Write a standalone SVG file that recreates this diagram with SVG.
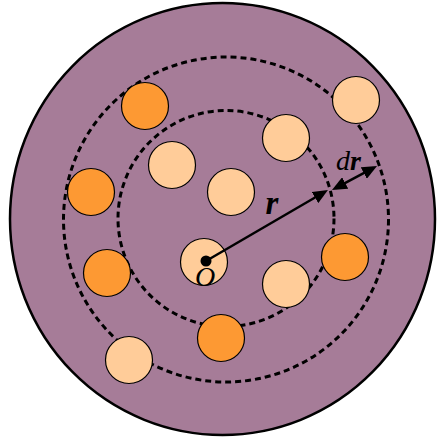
<svg xmlns="http://www.w3.org/2000/svg" width="437" height="440" viewBox="0 0 437 440">
  <style>
    .dash { fill: none; stroke: #000; stroke-width: 3; stroke-dasharray: 6 4; }
    .orange { fill: #FD9933; stroke: #000; stroke-width: 1.2; }
    .light { fill: #FFCC99; stroke: #000; stroke-width: 1.2; }
    .arrow { fill: none; stroke: #000; stroke-width: 2.5; }
    .lbl { font-family: "Liberation Serif", "DejaVu Serif", serif; font-style: italic; fill: #000; text-anchor: middle; }
    .b { font-weight: bold; }
  </style>
  <defs>
    <marker id="head" markerUnits="userSpaceOnUse" markerWidth="15" markerHeight="13" refX="11" refY="6.5" orient="auto-start-reverse">
      <path d="M0,0 L15,6.5 L0,13 Z" fill="#000"/>
    </marker>
  </defs>
  <g id="disk">
    <ellipse cx="222.5" cy="219" rx="212.5" ry="216" fill="#A67C98" stroke="#000" stroke-width="2.5"/>
  </g>
  <g id="shells">
    <circle class="dash" cx="226" cy="219.5" r="162.5"/>
    <circle class="dash" cx="226" cy="218.5" r="108"/>
  </g>
  <g id="particles">
    <g id="p1"><circle class="orange" cx="145" cy="106" r="23.5"/></g>
    <g id="p2"><circle class="orange" cx="91" cy="192" r="23.5"/></g>
    <g id="p3"><circle class="orange" cx="107" cy="273" r="23.5"/></g>
    <g id="p4"><circle class="orange" cx="221" cy="338" r="23.5"/></g>
    <g id="p5"><circle class="orange" cx="345" cy="257" r="23.5"/></g>
    <g id="p6"><circle class="light" cx="356" cy="100" r="23.5"/></g>
    <g id="p7"><circle class="light" cx="286" cy="138" r="23.5"/></g>
    <g id="p8"><circle class="light" cx="172" cy="165" r="23.5"/></g>
    <g id="p9"><circle class="light" cx="231" cy="192" r="23.5"/></g>
    <g id="p10"><circle class="light" cx="204" cy="262" r="23.5"/></g>
    <g id="p11"><circle class="light" cx="286" cy="284" r="23.5"/></g>
    <g id="p12"><circle class="light" cx="129" cy="360" r="23.5"/></g>
  </g>
  <g id="connectors">
    <line class="arrow" x1="206" y1="261" x2="324.5" y2="192" marker-end="url(#head)"/>
    <line class="arrow" x1="335.5" y1="188.1" x2="373.5" y2="167.9" marker-start="url(#head)" marker-end="url(#head)"/>
  </g>
  <g id="origin">
    <circle cx="206" cy="261" r="5.5" fill="#000"/>
    <text class="lbl" x="205" y="286" font-size="28">O</text>
  </g>
  <text class="lbl b" x="272" y="214" font-size="33">r</text>
  <text class="lbl" x="348.5" y="170" font-size="28">d<tspan class="b">r</tspan></text>
</svg>
